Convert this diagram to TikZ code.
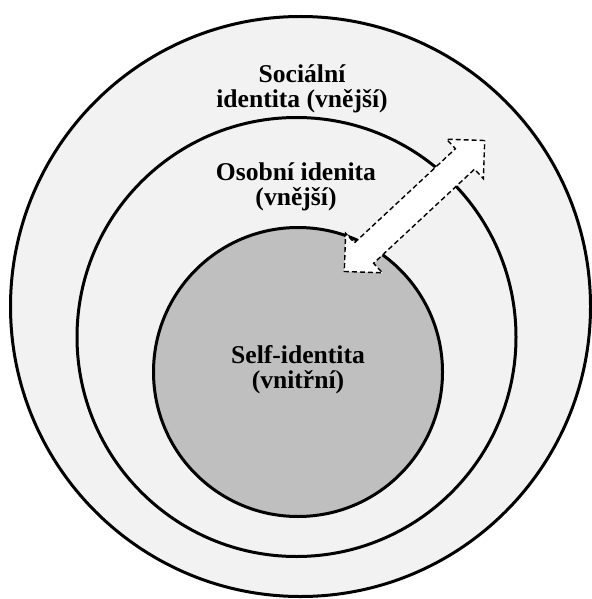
\documentclass[tikz,border=0pt]{standalone}
\usepackage{fontspec}
\setmainfont{Liberation Serif}
\definecolor{ringgray}{HTML}{F2F2F2}
\definecolor{coregray}{HTML}{BFBFBF}
\begin{document}
\begin{tikzpicture}[x=1pt,y=-1pt,
  ring/.style={draw=black,line width=3pt,fill=ringgray},
  core/.style={draw=black,line width=3pt,fill=coregray},
  label/.style={align=center,font=\bfseries\fontsize{25.6}{25}\selectfont,inner sep=0pt},
  flowarrow/.style={draw=black,fill=white,line width=1.4pt,dash pattern=on 5pt off 3pt,line join=miter}]
\useasboundingbox (0,0) rectangle (591,599);
\fill[white] (0,0) rectangle (591,599);

% nested identity circles
\node[ring,circle,minimum size=580pt,inner sep=0pt] (social) at (300.5,306.5) {};
\node[ring,circle,minimum size=439pt,inner sep=0pt] (personal) at (296.5,337) {};
\node[core,circle,minimum size=289pt,inner sep=0pt] (self) at (298,372) {};

% labels
\node[label] (socialtext) at (302,89) {Sociální\\identita (vnější)};
\node[label] (personaltext) at (296,187) {Osobní idenita\\(vnější)};
\node[label] (selftext) at (298,370) {Self-identita\\(vnitřní)};

% two-way block arrow between the self and the outer layers
\begin{scope}[shift={(414.5,206)},rotate=43]
  \coordinate (tipin) at (-96,0);
  \coordinate (tipout) at (96,0);
  \draw[flowarrow] (tipout) -- (69,-27) -- (69,-14) -- (-69,-14) -- (-69,-27)
    -- (tipin) -- (-69,27) -- (-69,14) -- (69,14) -- (69,27) -- cycle;
\end{scope}
\end{tikzpicture}
\end{document}
